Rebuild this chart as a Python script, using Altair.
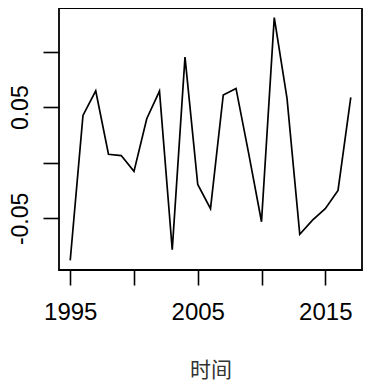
import altair as alt
import pandas as pd

years = list(range(1995, 2018))
values = [-0.0877, 0.0426, 0.0648, 0.0077, 0.0065, -0.0077, 0.0396, 0.0645,
          -0.0782, 0.0950, -0.0195, -0.0412, 0.0610, 0.0669, 0.0080, -0.0530,
          0.1305, 0.0580, -0.0643, -0.0515, -0.0412, -0.0249, 0.0589]
x_ticks = [1995, 2000, 2005, 2010, 2015]
y_ticks = [-0.05, 0.0, 0.05, 0.10]

df = pd.DataFrame({"year": years, "value": values})

font = "Liberation Sans"

chart = alt.Chart(df).mark_line(color="black", strokeWidth=1.7).encode(
    x=alt.X("year:Q",
            scale=alt.Scale(domain=[1994.12, 2017.88], nice=False, zero=False),
            axis=alt.Axis(values=x_ticks, format="d", title="时间",
                          labelExpr="(datum.value % 10 == 5) ? datum.label : ''",
                          grid=False, domain=False, tickColor="black", tickWidth=1.6,
                          tickSize=15, labelFont=font, labelFontSize=24,
                          labelColor="black", labelPadding=15, labelFlush=False,
                          titleFont="Noto Sans CJK SC", titleFontSize=21,
                          titleFontWeight="normal", titleColor="#333",
                          titleY=106, titleBaseline="alphabetic")),
    y=alt.Y("value:Q",
            scale=alt.Scale(domain=[-0.0964, 0.1392], nice=False, zero=False),
            axis=alt.Axis(values=y_ticks, title=None,
                          labelExpr="(abs(datum.value) > 0.02 && abs(datum.value) < 0.08) ? (datum.value < 0 ? '-' : '') + format(abs(datum.value), '.2f') : ''",
                          grid=False, domain=False, tickColor="black", tickWidth=1.6,
                          tickSize=16, labelFont=font, labelFontSize=23,
                          labelColor="black", labelAngle=270, labelPadding=11,
                          labelAlign="center", labelBaseline="bottom", labelFlush=False)),
).properties(
    width=303, height=262,
    autosize=alt.AutoSizeParams(type="none"),
    padding={"left": 51, "top": 0, "right": 1, "bottom": 112},
).configure_view(stroke="black", strokeWidth=1.8)

chart.save("out.html", embed_options={"renderer": "svg", "actions": False})
